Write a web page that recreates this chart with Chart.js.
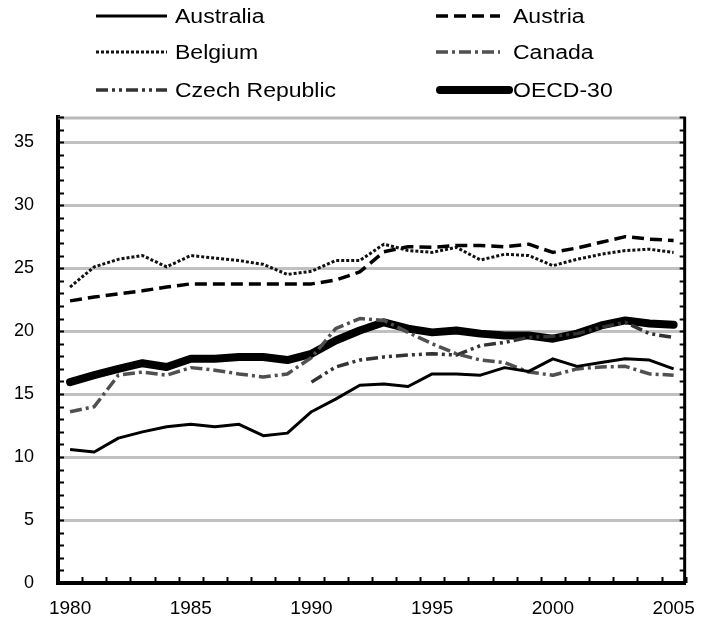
<!DOCTYPE html>
<html>
<head>
<meta charset="utf-8">
<script src="https://cdn.jsdelivr.net/npm/chart.js@4.4.1/dist/chart.umd.min.js"></script>
<style>
  html, body { margin: 0; padding: 0; background: #fff; }
  #wrap { width: 709px; height: 634px; position: relative; }
</style>
</head>
<body>
<div id="wrap"><canvas id="c"></canvas></div>
<script>
// ---- Data ----
const years = [1980,1981,1982,1983,1984,1985,1986,1987,1988,1989,1990,1991,1992,1993,1994,1995,1996,1997,1998,1999,2000,2001,2002,2003,2004,2005];
const australia = [10.6,10.4,11.5,12.0,12.4,12.6,12.4,12.6,11.7,11.9,13.6,14.6,15.7,15.8,15.6,16.6,16.6,16.5,17.1,16.8,17.8,17.2,17.5,17.8,17.7,17.0];
const austria   = [22.4,22.7,22.95,23.2,23.5,23.75,23.75,23.75,23.75,23.75,23.75,24.05,24.7,26.3,26.7,26.65,26.8,26.8,26.7,26.9,26.25,26.6,27.05,27.5,27.3,27.2];
const belgium   = [23.5,25.1,25.7,26.0,25.1,26.0,25.8,25.6,25.3,24.5,24.75,25.6,25.6,26.9,26.4,26.25,26.65,25.65,26.1,26.0,25.2,25.7,26.1,26.4,26.5,26.25];
const canada    = [13.6,14.0,16.5,16.75,16.5,17.1,16.9,16.6,16.35,16.6,17.9,20.2,21.0,20.85,19.9,19.0,18.2,17.7,17.5,16.75,16.5,17.0,17.15,17.2,16.6,16.5];
const czech     = [null,null,null,null,null,null,null,null,null,null,15.95,17.15,17.7,17.95,18.1,18.2,18.1,18.85,19.1,19.5,19.6,19.8,20.3,20.7,19.8,19.5];
const oecd      = [15.95,16.5,17.0,17.45,17.15,17.8,17.8,17.95,17.95,17.7,18.2,19.25,20.05,20.7,20.2,19.9,20.05,19.8,19.65,19.65,19.4,19.8,20.45,20.85,20.6,20.5];
const seriesNames = ['Australia','Austria','Belgium','Canada','Czech Republic','OECD-30'];
const yTickLabels = [0,5,10,15,20,25,30,35];
const xTickLabels = [1980,1985,1990,1995,2000,2005];

const FONT = '"Liberation Sans", Arial, sans-serif';

function ds(label, data, color, width, dash, cap) {
  return {
    label, data,
    borderColor: color, backgroundColor: color,
    borderWidth: width, borderDash: dash,
    borderCapStyle: cap || 'butt', borderJoinStyle: 'round',
    pointRadius: 0, pointHoverRadius: 0, tension: 0, spanGaps: false, fill: false
  };
}

const datasets = [
  ds(seriesNames[0], australia, '#000', 3, []),
  ds(seriesNames[1], austria,   '#000', 3.5, [12,6]),
  ds(seriesNames[2], belgium,   '#111', 3, [3,2]),
  ds(seriesNames[3], canada,    '#505050', 3.5, [12,4,3,4]),
  ds(seriesNames[4], czech,     '#333', 3.5, [12,4,3,4,3,4]),
  ds(seriesNames[5], oecd,      '#000', 8, [], 'round')
];

const framePlugin = {
  id: 'frame',
  beforeDatasetsDraw(chart) {
    const {ctx, chartArea: a, scales: {x, y}} = chart;
    ctx.save();
    ctx.strokeStyle = '#b8b8b8';
    ctx.lineWidth = 3;
    ctx.beginPath(); ctx.moveTo(a.left, a.top + 1); ctx.lineTo(a.right, a.top + 1); ctx.stroke();
    ctx.strokeStyle = '#000';
    ctx.lineWidth = 3;
    ctx.beginPath(); ctx.moveTo(a.right - 1, a.top); ctx.lineTo(a.right - 1, a.bottom); ctx.stroke();
    ctx.lineWidth = 2;
    for (let v = 0; v <= y.max; v++) {
      const py = Math.round(y.getPixelForValue(v)) + 0.5;
      ctx.beginPath(); ctx.moveTo(a.left, py); ctx.lineTo(a.left + 6, py); ctx.stroke();
      ctx.beginPath(); ctx.moveTo(a.right - 6, py); ctx.lineTo(a.right, py); ctx.stroke();
    }
    for (let i = 0; i <= years.length; i++) {
      const px = Math.round(x.getPixelForValue(i - 0.5)) + 0.5;
      ctx.beginPath(); ctx.moveTo(px, a.bottom); ctx.lineTo(px, a.bottom - 6); ctx.stroke();
    }
    ctx.restore();
  }
};

const legendPlugin = {
  id: 'customLegend',
  afterDraw(chart) {
    const ctx = chart.ctx;
    const colX = [96, 436];
    const colEnd = [167, 500];
    const textX = [175, 513];
    const rowY = [16, 52, 90];
    chart.data.datasets.forEach((d, k) => {
      const col = k % 2, row = Math.floor(k / 2);
      const y = rowY[row];
      const x0 = colX[col];
      let x1 = colEnd[col];
      if (k === 5) x1 = 509;
      ctx.save();
      ctx.strokeStyle = d.borderColor;
      ctx.lineWidth = d.borderWidth;
      ctx.setLineDash(d.borderDash || []);
      ctx.lineCap = d.borderCapStyle;
      ctx.beginPath(); ctx.moveTo(x0 + (k === 5 ? 4 : 0), y); ctx.lineTo(x1, y); ctx.stroke();
      ctx.setLineDash([]);
      ctx.fillStyle = '#000';
      ctx.font = '20px ' + FONT;
      ctx.textBaseline = 'middle';
      ctx.textAlign = 'left';
      ctx.translate(textX[col], y + 1);
      ctx.scale(1.15, 1);
      ctx.fillText(d.label, 0, 0);
      ctx.restore();
    });
  }
};

new Chart(document.getElementById('c'), {
  type: 'line',
  data: { labels: years, datasets },
  options: {
    responsive: true,
    maintainAspectRatio: false,
    animation: false,
    events: [],
    layout: { padding: { top: 117, right: 14, left: 0, bottom: 0 } },
    plugins: { legend: { display: false }, tooltip: { enabled: false }, title: { display: false } },
    scales: {
      x: {
        type: 'category',
        offset: true,
        grid: { display: false, drawTicks: false },
        border: { display: true, color: '#000', width: 4 },
        ticks: {
          autoSkip: false, maxRotation: 0, minRotation: 0, padding: 14,
          color: '#000', font: { family: FONT, size: 19 },
          callback: (v, i) => xTickLabels.includes(years[i]) ? String(years[i]) : ''
        },
        afterFit: s => { s.height = 51; }
      },
      y: {
        min: 0, max: 37,
        afterBuildTicks: s => { s.ticks = yTickLabels.map(v => ({ value: v })); },
        grid: { color: '#c0c0c0', lineWidth: 3, drawTicks: false },
        border: { display: true, color: '#000', width: 4 },
        ticks: {
          stepSize: 5, padding: 24, color: '#000',
          font: { family: FONT, size: 18 }
        },
        afterFit: s => { s.width = 58; }
      }
    }
  },
  plugins: [framePlugin, legendPlugin]
});
</script>
</body>
</html>
